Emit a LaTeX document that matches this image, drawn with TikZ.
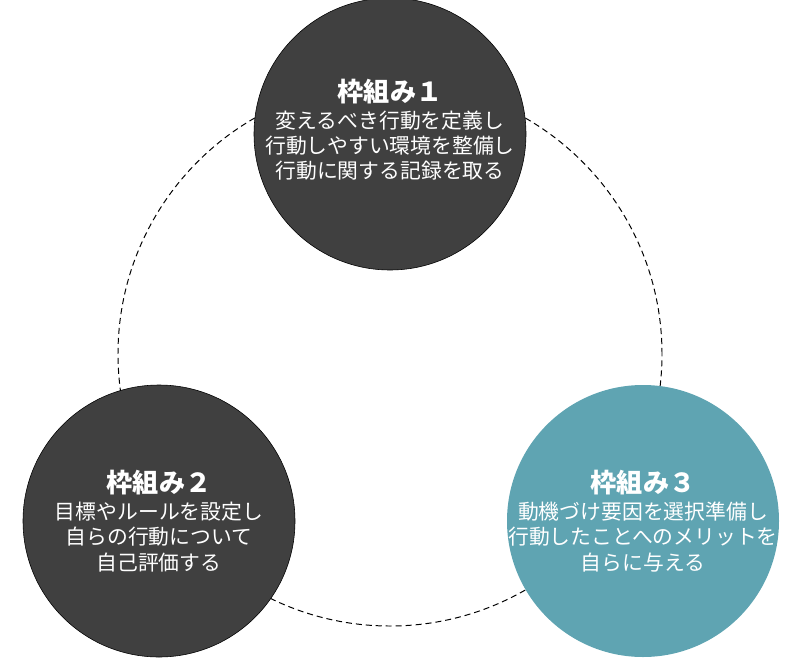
\documentclass[tikz,border=0pt]{standalone}
\usepackage{fontspec}
\setmainfont{Noto Sans CJK JP}
\definecolor{sombre}{HTML}{404040}
\definecolor{canard}{HTML}{5FA4B2}

\begin{document}
\begin{tikzpicture}[
	cadre/.style={circle,minimum size=6.8cm,inner sep=0pt},
	texte/.style={align=center,text=white,inner sep=0pt,
		font=\fontsize{14.8}{18}\selectfont},
	boucle/.style={draw=black,dashed,dash pattern=on 4.3pt off 2.8pt,line width=0.7pt},
	]
	
	\useasboundingbox (0,0) rectangle (20,-16.45);
	
	\coordinate (O) at (9.75,-8.85);
	\draw[boucle] (O) circle[radius=6.8cm];
	
	\node[cadre,fill=sombre,draw=black,thin] (F1) at (9.75,-3.35) {};
	\node[texte] (T1) at ([yshift=3pt]F1.center)
	{{\bfseries\fontsize{18.6}{21}\selectfont 枠組み１}\\[1pt]
		変えるべき行動を定義し\\行動しやすい環境を整備し\\行動に関する記録を取る};
	
	\node[cadre,fill=sombre,draw=black,thin] (F2) at (3.975,-13.025) {};
	\node[texte] (T2) at (F2.center)
	{{\bfseries\fontsize{18.6}{21}\selectfont 枠組み２}\\[1pt]
		目標やルールを設定し\\自らの行動について\\自己評価する};
	
	\node[cadre,fill=canard] (F3) at (16.075,-13.025) {};
	\node[texte] (T3) at (F3.center)
	{{\bfseries\fontsize{18.6}{21}\selectfont 枠組み３}\\[1pt]
		動機づけ要因を選択準備し\\行動したことへのメリットを\\自らに与える};

\end{tikzpicture}
\end{document}
